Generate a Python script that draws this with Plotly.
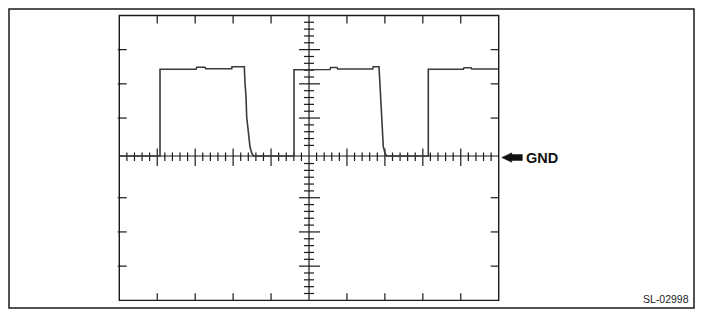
import plotly.graph_objects as go

# ---- data (oscilloscope divisions: x = time div, y = volt div, 0 = GND) ----
time_div = [0.000, 1.073, 1.073, 2.022, 2.040, 2.259, 2.277, 2.963, 2.970, 3.295,
            3.313, 3.340, 3.358, 3.400, 3.445, 3.490, 3.532,
            4.605, 4.605, 5.553, 5.570, 5.738, 5.755, 6.679, 6.690, 6.845,
            6.853, 6.871, 6.897, 6.924, 6.958, 7.003, 7.048,
            8.144, 8.144, 9.067, 9.085, 9.270, 9.288, 10.000]
volt_div = [0.000, 0.000, 2.535, 2.535, 2.594, 2.594, 2.553, 2.553, 2.611, 2.611,
            2.135, 1.725, 1.140, 0.673, 0.263, 0.088, 0.000,
            0.000, 2.520, 2.530, 2.588, 2.588, 2.544, 2.544, 2.611, 2.611,
            2.418, 1.930, 1.345, 0.857, 0.272, 0.079, 0.000,
            0.000, 2.535, 2.535, 2.582, 2.582, 2.544, 2.544]

grid_x = [0, 10]
grid_top, grid_bot = 4.11, -4.22
upper_major = [3.11, 2.11, 1.11]
lower_major = [-1.22, -2.22, -3.22]
gnd_label = "GND"
code_label = "SL-02998"

X_RANGE = [-2.907, 15.147]
Y_RANGE = [-4.444, 4.298]
INK = "#1a1a1a"

fig = go.Figure()

# ---- graticule ticks built as one broken line ----
tx, ty = [], []
def seg(x0, y0, x1, y1):
    tx.extend([x0, x1, None]); ty.extend([y0, y1, None])

# centre lines
seg(grid_x[0], 0, grid_x[1], 0)
seg(5, grid_bot, 5, grid_top)
# horizontal centre line ticks
for k in range(1, 50):
    x = k * 0.2
    if k == 25:
        continue
    if k % 5 == 0:
        seg(x, 0.219, x, -0.292)
    else:
        seg(x, 0.102, x, -0.146)
# vertical centre line ticks, upper half
for k in range(1, 20):
    y = grid_top - 0.2 * k
    if k % 5 == 0:
        seg(5 - 0.264, y, 5 + 0.29, y)
    else:
        seg(5 - 0.132, y, 5 + 0.132, y)
# lower half
for k in range(1, 21):
    y = grid_bot + 0.2 * k
    if k % 5 == 0 and k < 20:
        seg(5 - 0.264, y, 5 + 0.29, y)
    else:
        seg(5 - 0.132, y, 5 + 0.132, y)
# border ticks
for k in range(1, 10):
    if k == 5:
        continue
    seg(k, grid_top, k, grid_top - 0.234)
    seg(k, grid_bot, k, grid_bot + 0.205)
for y in upper_major + lower_major:
    seg(grid_x[0] - 0.04, y, grid_x[0] + 0.195, y)
    seg(grid_x[1], y, grid_x[1] - 0.211, y)

fig.add_trace(go.Scatter(x=tx, y=ty, mode="lines", line=dict(color=INK, width=1.2),
                         hoverinfo="skip", showlegend=False))

# ---- waveform ----
fig.add_trace(go.Scatter(x=time_div, y=volt_div, mode="lines",
                         line=dict(color="#3a3a3a", width=1.6),
                         hoverinfo="skip", showlegend=False))

shapes = [
    dict(type="rect", xref="paper", yref="paper", x0=0, x1=1, y0=0, y1=1,
         line=dict(color=INK, width=1.5)),
    dict(type="rect", xref="x", yref="y", x0=grid_x[0], x1=grid_x[1], y0=grid_bot, y1=grid_top,
         line=dict(color=INK, width=1.4)),
]
# GND arrow
ay = -0.044
tip, base, tail = 10.08, 10.343, 10.622
shapes.append(dict(type="path", xref="x", yref="y",
                   path=(f"M{tip},{ay} L{base},{ay+0.137} L{base},{ay+0.088} L{tail},{ay+0.088} "
                         f"L{tail},{ay-0.088} L{base},{ay-0.088} L{base},{ay-0.137} Z"),
                   fillcolor="#111", line=dict(color="#111", width=0.5)))

fig.update_layout(
    width=704, height=318,
    margin=dict(l=9, r=10, t=9, b=10),
    paper_bgcolor="white", plot_bgcolor="white",
    shapes=shapes,
    xaxis=dict(range=X_RANGE, visible=False, fixedrange=True),
    yaxis=dict(range=Y_RANGE, visible=False, fixedrange=True),
    annotations=[
        dict(x=10.67, y=ay, xref="x", yref="y", text=f"<b>{gnd_label}</b>", showarrow=False,
             xanchor="left", yanchor="middle",
             font=dict(family="Liberation Sans, Arial, sans-serif", size=14.5, color="#111")),
        dict(x=15.06, y=-4.18, xref="x", yref="y", text=code_label, showarrow=False,
             xanchor="right", yanchor="middle",
             font=dict(family="Liberation Sans, Arial, sans-serif", size=10.5, color="#222")),
    ],
)

fig.write_html("out.html", config={"displayModeBar": False})
